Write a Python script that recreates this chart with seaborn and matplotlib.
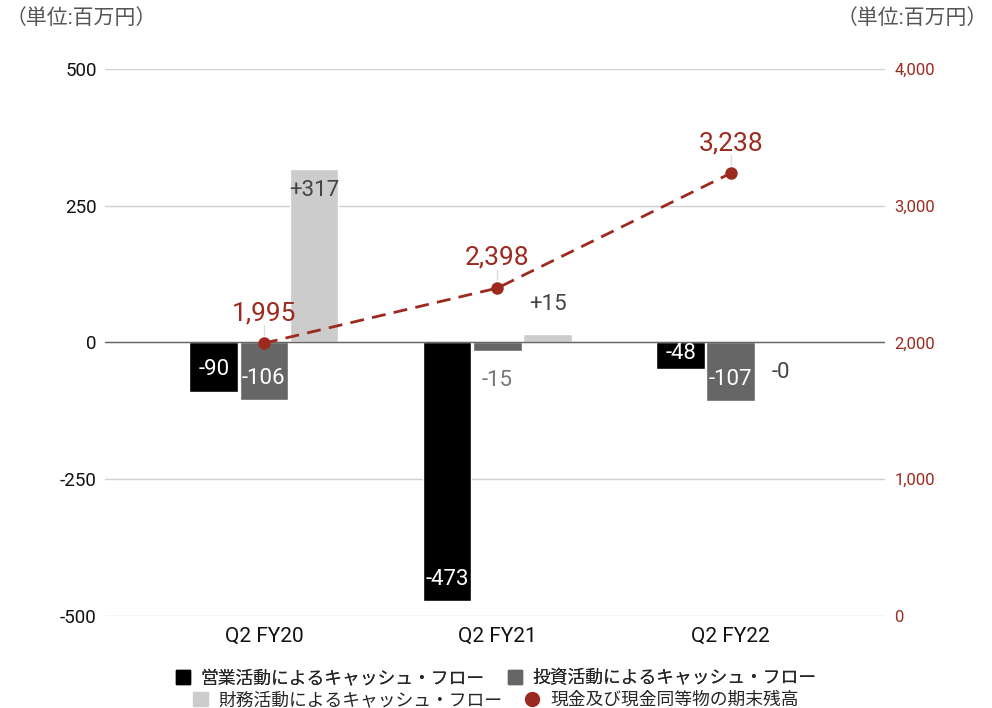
import matplotlib.pyplot as plt
import pandas as pd
import seaborn as sns
from matplotlib.lines import Line2D
from matplotlib.patches import Patch

sns.set_theme(style="white")
plt.rcParams["font.family"] = ["Roboto", "Noto Sans CJK JP", "DejaVu Sans"]

quarters = ["Q2 FY20", "Q2 FY21", "Q2 FY22"]
series = ["営業活動によるキャッシュ・フロー", "投資活動によるキャッシュ・フロー", "財務活動によるキャッシュ・フロー"]
operating_cf = [-90, -473, -48]
investing_cf = [-106, -15, -107]
financing_cf = [317, 15, 0]
bar_labels = [["-90", "-473", "-48"], ["-106", "-15", "-107"], ["+317", "+15", "-0"]]
cash_balance = [1995, 2398, 3238]
cash_label = "現金及び現金同等物の期末残高"

left_ticks = [-500, -250, 0, 250, 500]
right_ticks = [0, 1000, 2000, 3000, 4000]

bar_colors = ["#000000", "#666666", "#cccccc"]
line_color = "#9c2a1f"

df = pd.DataFrame({
    "quarter": quarters * 3,
    "series": [s for s in series for _ in quarters],
    "value": operating_cf + investing_cf + financing_cf,
})

fig = plt.figure(figsize=(9.92, 7.08), dpi=100)
ax = fig.add_axes([0.106, 0.13, 0.786, 0.7725])

sns.barplot(data=df, x="quarter", y="value", hue="series", hue_order=series,
            palette=bar_colors, width=0.645, gap=0.03, saturation=1,
            ax=ax, legend=False)

ax.set_ylim(-500, 500)
ax.set_xlim(-0.68, 2.66)
ax.set_yticks(left_ticks)
ax.set_yticklabels([str(t) for t in left_ticks], fontsize=13.5, color="#111111")
ax.yaxis.grid(True, color="#d0d0d0", linewidth=1)
ax.axhline(0, color="#666666", linewidth=1, zorder=1)
ax.set_axisbelow(True)
for s in ax.spines.values():
    s.set_visible(False)
ax.set_xlabel("")
ax.set_ylabel("")
ax.tick_params(axis="x", labelsize=15, colors="#111111", length=0, pad=8)
ax.tick_params(axis="y", length=0, pad=6)

# bar value labels
label_colors_in = ["white", "white", "#444444"]
for i, cont in enumerate(ax.containers):
    for j, bar in enumerate(cont):
        v = bar.get_height()
        xc = bar.get_x() + bar.get_width() / 2
        txt = bar_labels[i][j]
        if abs(v) >= 40:
            y = v - 40 if v > 0 else v + 40
            if abs(v) < 60:
                y = v / 2 + 4
            color = label_colors_in[i]
        else:
            y = 70 if v > 0 else -70
            color = "#777777" if v < 0 else "#444444"
            if txt == "-0":
                y = -55
        ax.text(xc, y, txt, ha="center", va="center", fontsize=16, color=color)

ax2 = ax.twinx()
line_df = pd.DataFrame({"quarter": quarters, "cash": cash_balance})
sns.lineplot(data=line_df, x="quarter", y="cash", ax=ax2, color=line_color,
             linewidth=2, linestyle=(0, (5, 3)), marker="o", markersize=9,
             markeredgewidth=0, zorder=5)
ax2.set_ylim(0, 4000)
ax2.set_yticks(right_ticks)
ax2.set_yticklabels([f"{t:,}" for t in right_ticks], fontsize=12, color=line_color)
ax2.tick_params(axis="y", length=0, pad=7)
ax2.set_ylabel("")
ax2.set_xlabel("")
for s in ax2.spines.values():
    s.set_visible(False)
for j, v in enumerate(cash_balance):
    ax2.plot([j, j], [v + 60, v + 130], color="#dddddd", linewidth=1, zorder=4)
    ax2.text(j, v + 220, f"{v:,}", ha="center", va="center", fontsize=19,
             color=line_color)

fig.text(0.006, 0.975, "（単位:百万円）", fontsize=15, color="#555555", ha="left", va="center")
fig.text(0.996, 0.975, "（単位:百万円）", fontsize=15, color="#555555", ha="right", va="center")

patches = [Patch(color=c) for c in bar_colors]
dot = Line2D([], [], color=line_color, marker="o", linestyle="", markersize=10)
leg_kw = dict(loc="center", ncol=2, frameon=False, fontsize=12.8, handlelength=0.8,
              handleheight=0.8, handletextpad=0.6, columnspacing=1.3, borderpad=0)
leg1 = fig.legend(patches[:2], series[:2], bbox_to_anchor=(0.5, 1 - 678 / 708), **leg_kw)
fig.add_artist(leg1)
fig.legend([patches[2], dot], [series[2], cash_label],
           bbox_to_anchor=(0.5, 1 - 700 / 708), **leg_kw)

fig.savefig("out.png", dpi=100)
